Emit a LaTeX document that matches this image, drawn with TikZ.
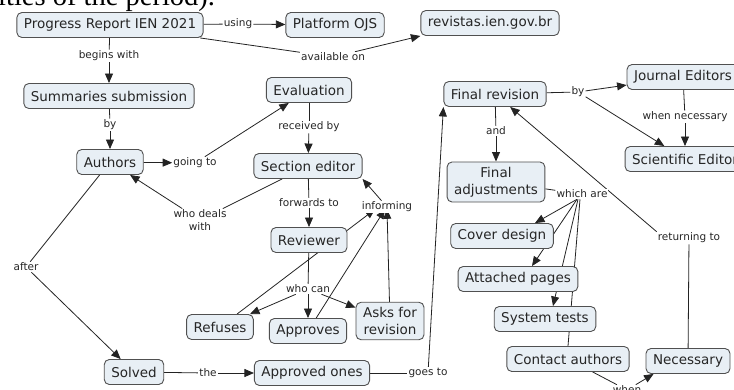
\documentclass[tikz,border=0pt]{standalone}
\usepackage{fontspec}
\setmainfont{DejaVu Sans}
\newfontfamily\pagefont{Liberation Serif}
\usepackage{xcolor}
\usetikzlibrary{arrows.meta, backgrounds}
\tikzset{
    concept/.style={rectangle, draw=cmapborder, fill=cmapfill, rounded corners=5pt, line width=0.9pt, inner xsep=7pt, inner ysep=5pt, minimum height=25pt, align=center, font=\fontsize{13.5}{17}\selectfont, text=cmaptext},
    linkphrase/.style={fill=white, inner sep=1pt, align=center, font=\fontsize{10.5}{12.5}\selectfont, text=cmaptext},
    linkline/.style={draw=cmapline, line width=0.8pt},
    linkarrow/.style={linkline, -{Triangle[length=9.5pt, width=8pt]}}
}
\definecolor{cmapfill}{RGB}{232,239,245}
\definecolor{cmapborder}{RGB}{80,80,80}
\definecolor{cmaptext}{RGB}{38,38,38}
\definecolor{cmapline}{RGB}{35,35,35}

\begin{document}
\begin{tikzpicture}[x=1pt, y=-1pt]
\useasboundingbox (0,0) rectangle (734,389);

% leftover line of the page above the map
\node[font=\pagefont\fontsize{28.5}{30}\selectfont, anchor=base west, inner sep=0pt] (pagetext) at (-2,5.5) {ities of the period).};

% concepts
\node[concept] (report) at (110,25) {Progress Report IEN 2021};
\node[concept] (ojs) at (335,25) {Platform OJS};
\node[concept] (site) at (490,23) {revistas.ien.gov.br};
\node[concept] (summ) at (109,96) {Summaries submission};
\node[concept] (authors) at (110,162) {Authors};
\node[concept] (eval) at (309,90) {Evaluation};
\node[concept] (sect) at (308,166) {Section editor};
\node[concept] (rev) at (309,240) {Reviewer};
\node[concept] (refuses) at (220,327) {Refuses};
\node[concept] (approves) at (308,331) {Approves};
\node[concept] (asks) at (390,321) {Asks for\\revision};
\node[concept] (solved) at (134,372) {Solved};
\node[concept] (apprones) at (312,373) {Approved ones};
\node[concept] (finrev) at (495,94) {Final revision};
\node[concept] (journal) at (683,77) {Journal Editors};
\node[concept] (scient) at (685,159) {Scientific Editor};
\node[concept] (finadj) at (496,182) {Final\\adjustments};
\node[concept] (cover) at (502,236) {Cover design};
\node[concept] (attach) at (518,279) {Attached pages};
\node[concept] (systest) at (545,319) {System tests};
\node[concept] (contact) at (568,359) {Contact authors};
\node[concept] (necess) at (688,361) {Necessary};

% linking phrases
\node[linkphrase] (using) at (238,24) {using};
\node[linkphrase] (avail) at (333,57) {available on};
\node[linkphrase] (begins) at (109,56) {begins with};
\node[linkphrase] (by) at (110,125) {by};
\node[linkphrase] (going) at (195,163) {going to};
\node[linkphrase] (deals) at (200,220) {who deals\\with};
\node[linkphrase] (recv) at (309,127) {received by};
\node[linkphrase] (fwd) at (309,203) {forwards to};
\node[linkphrase] (inform) at (387,207) {informing};
\node[linkphrase] (whocan) at (308,289) {who can};
\node[linkphrase] (after) at (26,267) {after};
\node[linkphrase] (the) at (208,373) {the};
\node[linkphrase] (goes) at (428,373) {goes to};
\node[linkphrase] (byed) at (578,92) {by};
\node[linkphrase] (whennec) at (685,117) {when necessary};
\node[linkphrase] (and) at (496,131) {and};
\node[linkphrase] (which) at (582,194) {which are};
\node[linkphrase] (returning) at (689,238) {returning to};
\node[linkphrase] (when) at (627,390) {when};

\begin{scope}[on background layer]
    \draw[linkline] (report) -- (using);
    \draw[linkarrow] (using) -- (ojs);
    \draw[linkline] (report) -- (avail);
    \draw[linkarrow] (avail) -- (site.south west);
    \draw[linkline] (report) -- (begins);
    \draw[linkarrow] (begins) -- (summ);
    \draw[linkline] (summ) -- (by);
    \draw[linkarrow] (by) -- (authors);
    \draw[linkarrow] (authors) -- (going);
    \draw[linkarrow] (going) -- (eval);
    \draw[linkline] (sect) -- (deals);
    \draw[linkarrow] (deals) -- (authors);
    \draw[linkline] (eval) -- (recv);
    \draw[linkarrow] (recv) -- (sect);
    \draw[linkline] (sect) -- (fwd);
    \draw[linkarrow] (fwd) -- (rev);
    \draw[linkline] (rev) -- (whocan);
    \draw[linkarrow] (whocan) -- (approves);
    \draw[linkarrow] (whocan) -- (refuses);
    \draw[linkarrow] (whocan) -- (asks);
    \draw[linkarrow] (refuses) -- ([xshift=-12pt, yshift=4pt]inform.south);
    \draw[linkarrow] (approves) -- ([xshift=-2pt, yshift=4pt]inform.south);
    \draw[linkarrow] (asks) -- ([yshift=4pt]inform.south);
    \draw[linkarrow] (inform) -- (sect.south east);
    \draw[linkline] (authors) -- (after);
    \draw[linkarrow] (after) -- (solved);
    \draw[linkline] (solved) -- (the);
    \draw[linkarrow] (the) -- (apprones);
    \draw[linkline] (apprones) -- (goes);
    \draw[linkarrow] (goes) -- (finrev.south west);
    \draw[linkline] (finrev) -- (byed);
    \draw[linkarrow] (byed) -- (journal);
    \draw[linkarrow] (byed) -- (scient);
    \draw[linkline] (journal) -- (whennec);
    \draw[linkarrow] (whennec) -- (scient);
    \draw[linkline] (finrev) -- (and);
    \draw[linkarrow] (and) -- (finadj);
    \draw[linkline] (finadj) -- (which);
    \draw[linkarrow] ([xshift=-5pt]which.south) -- ([xshift=33pt]cover.north);
    \draw[linkarrow] ([xshift=-5pt]which.south) -- ([xshift=14pt]attach.north);
    \draw[linkarrow] ([xshift=-4pt]which.south) -- ([xshift=8pt]systest.north);
    \draw[linkline] ([xshift=-2pt]which.south) -- (contact.north);
    \draw[linkline] (contact) -- (when);
    \draw[linkarrow] (when) -- ([xshift=8pt]necess.south west);
    \draw[linkline] (necess) -- (returning);
    \draw[linkarrow] (returning.north west) -- (finrev);
\end{scope}
\end{tikzpicture}
\end{document}
